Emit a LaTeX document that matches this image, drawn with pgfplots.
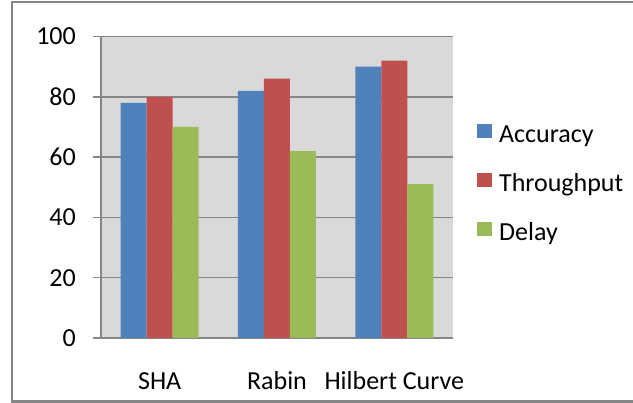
\documentclass[border=0pt]{standalone}
\usepackage{fontspec}
\setmainfont{Carlito}
\usepackage{pgfplots}
\pgfplotsset{compat=1.18}
\definecolor{bgGray}{HTML}{D9D9D9}
\definecolor{lineGray}{HTML}{868686}
\definecolor{cBlue}{HTML}{4F81BD}
\definecolor{cRed}{HTML}{C0504D}
\definecolor{cGreen}{HTML}{9BBB59}
\begin{document}
\begin{tikzpicture}
\useasboundingbox (-101pt,-65pt) rectangle (532pt,338pt);
\begin{axis}[
  at={(0pt,0pt)}, anchor=south west,
  scale only axis, width=352pt, height=301.5pt,
  xmin=-0.5, xmax=2.5, ymin=0, ymax=100,
  ybar=0pt, bar width=26pt,
  axis background/.style={fill=bgGray},
  axis x line*=bottom, axis y line*=left,
  axis line style={lineGray, line width=1.5pt, -},
  ymajorgrids, grid style={lineGray, line width=1.5pt},
  ytick={0,20,40,60,80,100},
  xtick={0,1,2}, xticklabels={SHA,Rabin,Hilbert Curve},
  minor xtick={-0.5,0.5,1.5,2.5},
  tick align=outside,
  major tick length=8pt, minor tick length=8pt,
  xtick style={draw=none},
  minor x tick style={lineGray, line width=1.5pt},
  ytick style={lineGray, line width=1.5pt},
  font=\fontsize{26}{31}\selectfont,
  /pgf/number format/assume math mode=true,
  yticklabel style={anchor=east, inner sep=0pt, xshift=-17pt},
  xticklabel style={anchor=base, inner sep=0pt, yshift=-44pt},
  legend style={at={(1.068,0.711)}, anchor=north west, draw=none, fill=none,
    inner sep=0pt, row sep=24pt,
    nodes={inner sep=0pt, text height=18pt, text depth=6pt},
    /tikz/every odd column/.style={column sep=7pt},
    font=\fontsize{26}{31}\selectfont},
  legend cell align=left,
  legend image code/.code={\fill[#1] (0pt,-1pt) rectangle (15pt,13pt);},
]
\addplot[fill=cBlue, draw=none] coordinates {(0,78) (1,82) (2,90)};
\addplot[fill=cRed, draw=none] coordinates {(0,80) (1,86) (2,92)};
\addplot[fill=cGreen, draw=none] coordinates {(0,70) (1,62) (2,51)};
\legend{Accuracy,Throughput,Delay}
\end{axis}
\draw[lineGray, line width=2.5pt] (540pt,336pt) -- (-89pt,336pt) -- (-89pt,-63.5pt) -- (540pt,-63.5pt);
\end{tikzpicture}
\end{document}
